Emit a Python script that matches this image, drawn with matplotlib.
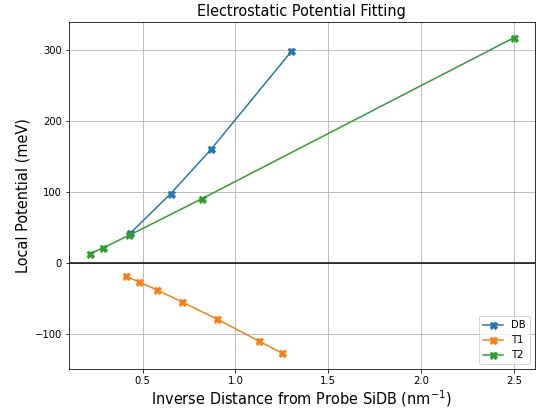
import matplotlib
matplotlib.use("Agg")
import matplotlib.pyplot as plt

db_x = [0.434, 0.651, 0.869, 1.302]
db_y = [42, 97.5, 160, 298]
t1_x = [0.41, 0.482, 0.578, 0.714, 0.901, 1.128, 1.252]
t1_y = [-18.8, -26.7, -38, -55, -79, -110, -127]
t2_x = [0.216, 0.288, 0.428, 0.820, 2.5]
t2_y = [13, 21.5, 39, 90.5, 317]

DPI = 72
fig = plt.figure(figsize=(541/DPI, 409/DPI), dpi=DPI)
ax = fig.add_axes([68.7/541, 1-369/409, (535-68.7)/541, (369-22)/409])
ax.plot(db_x, db_y, marker='X', markersize=7, label='DB')
ax.plot(t1_x, t1_y, marker='X', markersize=7, label='T1')
ax.plot(t2_x, t2_y, marker='X', markersize=7, label='T2')
ax.axhline(0, color='k')
ax.grid(True)
ax.set_title('Electrostatic Potential Fitting', fontsize=14.5)
ax.set_xlabel('Inverse Distance from Probe SiDB (nm$^{-1}$)', fontsize=14.5, labelpad=2)
ax.set_ylabel('Local Potential (meV)', fontsize=14.5)
ax.tick_params(labelsize=10)
ax.legend(loc='lower right', fontsize=10)
fig.savefig('out.png', dpi=DPI)
